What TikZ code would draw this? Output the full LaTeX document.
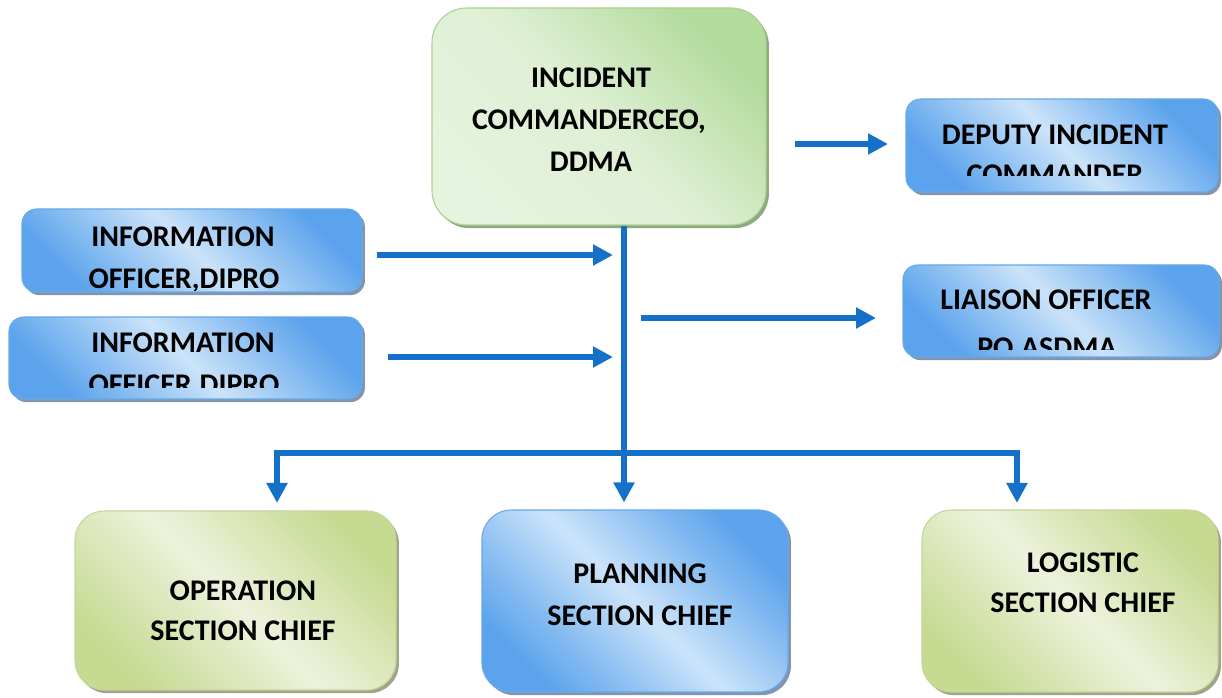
\documentclass[tikz,border=0pt]{standalone}
\usepackage{fontspec}
\setmainfont{Carlito}
\usetikzlibrary{arrows.meta,fit,shadows}
\definecolor{arr}{HTML}{1570C8}
\definecolor{bluedark}{HTML}{5BA3EC}
\definecolor{bluelight}{HTML}{CBE3F9}
\definecolor{blueedge}{HTML}{66AAEA}
\definecolor{blueshadow}{HTML}{8395AC}
\definecolor{gdark}{HTML}{B2DB9C}
\definecolor{glight}{HTML}{E6F3DE}
\definecolor{gedge}{HTML}{A9D390}
\definecolor{gshadow}{HTML}{8FA882}
\definecolor{odark}{HTML}{C7DA92}
\definecolor{olight}{HTML}{EDF2DC}
\definecolor{oedge}{HTML}{C3D69B}
\definecolor{oshadow}{HTML}{A0A58A}
\tikzset{
  box/.style={line width=0.8pt, inner sep=0pt},
  bluebox/.style={box, rounded corners=11pt, draw=blueedge,
    top color=bluedark, bottom color=bluedark, middle color=bluelight, shading angle=-45,
    drop shadow={shadow xshift=2.2pt, shadow yshift=-2.4pt, fill=blueshadow, opacity=1}},
  bigblue/.style={bluebox, rounded corners=22pt},
  greenbox/.style={box, rounded corners=26pt, draw=gedge,
    top color=gdark, bottom color=glight, middle color=glight!85!gdark, shading angle=-45,
    drop shadow={shadow xshift=2.2pt, shadow yshift=-2.4pt, fill=gshadow, opacity=1}},
  olivebox/.style={box, rounded corners=22pt, draw=oedge,
    top color=odark, bottom color=odark, middle color=olight, shading angle=-45,
    drop shadow={shadow xshift=2.2pt, shadow yshift=-2.4pt, fill=oshadow, opacity=1}},
  txt/.style={font=\bfseries\fontsize{22.5}{27}\selectfont, anchor=base, inner sep=0pt},
  conn/.style={draw=arr, line width=3.8pt, -{Triangle[width=15pt,length=15pt]}},
  conn2/.style={draw=arr, line width=3.8pt, {Triangle[width=15pt,length=15pt]}-{Triangle[width=15pt,length=15pt]}},
}
\begin{document}
\begin{tikzpicture}[x=0.75pt,y=-0.75pt]
\useasboundingbox (0,0) rectangle (1222,698);
% boxes
\node[greenbox, fit={(432,8) (766,225)}] (top) {};
\node[bluebox, fit={(906,99) (1218,192)}] (deputy) {};
\node[bluebox, fit={(22,209) (362,292)}] (info1) {};
\node[bluebox, fit={(9,317) (362,399)}] (info2) {};
\node[bluebox, fit={(903,265) (1219,357)}] (liaison) {};
\node[olivebox, fit={(75,511) (396,690)}] (op) {};
\node[bigblue, fit={(482,510) (788,692)}] (plan) {};
\node[olivebox, fit={(922,510) (1218,692)}] (log) {};
% texts
\node[txt] (t1a) at (591,88) {INCIDENT};
\node[txt] (t1b) at (589,130) {COMMANDERCEO,};
\node[txt] (t1c) at (591,172) {DDMA};
\node[txt] (t2a) at (1055,145) {DEPUTY INCIDENT};
\begin{scope}
\clip (900,90) rectangle (1222,176);
\node[txt] (t2b) at (1055,185) {COMMANDER};
\end{scope}
\node[txt] (t3a) at (183,247) {INFORMATION};
\begin{scope}
\clip (0,250) rectangle (380,291);
\node[txt] (t3b) at (184,289) {OFFICER,DIPRO};
\end{scope}
\node[txt] (t4a) at (183,353) {INFORMATION};
\begin{scope}
\clip (0,356) rectangle (380,388);
\node[txt] (t4b) at (184,395) {OFFICER,DIPRO};
\end{scope}
\node[txt] (t5a) at (1046,310) {LIAISON OFFICER};
\begin{scope}
\clip (900,313) rectangle (1222,350);
\node[txt] (t5b) at (1047,358) {PO,ASDMA};
\end{scope}
\node[txt] (t6a) at (243,600) {OPERATION};
\node[txt] (t6b) at (243,640) {SECTION CHIEF};
\node[txt] (t7a) at (640,584) {PLANNING};
\node[txt] (t7b) at (640,626) {SECTION CHIEF};
\node[txt] (t8a) at (1083,573) {LOGISTIC};
\node[txt] (t8b) at (1083,613) {SECTION CHIEF};
% connector coordinates
\coordinate (dS) at (795,144);
\coordinate (dE) at (888,144);
\coordinate (i1S) at (377,255);
\coordinate (i1E) at (613,255);
\coordinate (i2S) at (388,357);
\coordinate (i2E) at (613,357);
\coordinate (lS) at (641,318);
\coordinate (lE) at (876,318);
\coordinate (trunk) at (624,453);
\coordinate (opTip) at (277,503);
\coordinate (logTip) at (1017,503);
% connectors
\draw[conn] (dS) -- (dE);
\draw[conn] (i1S) -- (i1E);
\draw[conn] (i2S) -- (i2E);
\draw[conn] (lS) -- (lE);
\draw[conn] (top.south -| trunk) -- ([yshift=5.25pt]plan.north -| trunk);
\draw[conn2] (opTip) -- (opTip |- trunk) -- (logTip |- trunk) -- (logTip);
\end{tikzpicture}
\end{document}
